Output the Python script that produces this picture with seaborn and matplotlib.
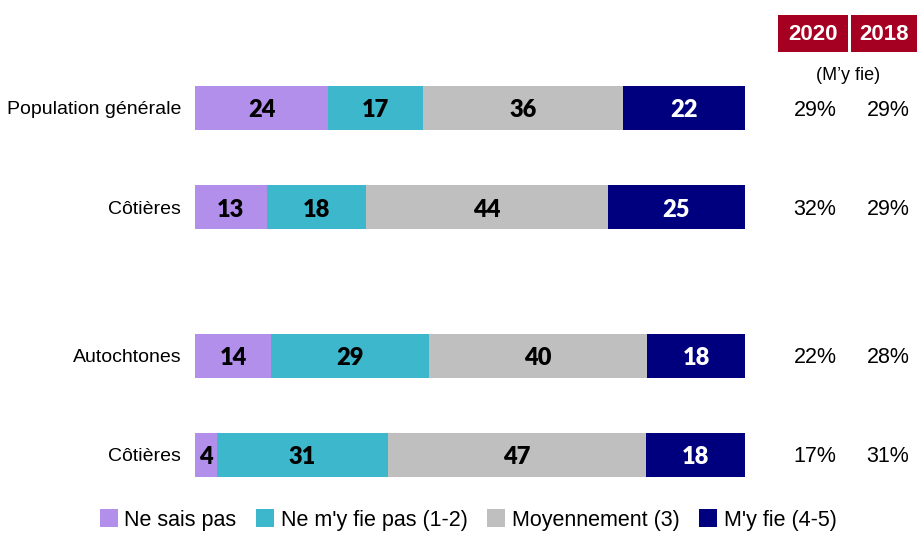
import matplotlib
matplotlib.use("Agg")
import matplotlib.pyplot as plt
import seaborn as sns
import numpy as np
import pandas as pd
from matplotlib.patches import Rectangle

categories = ["Population générale", "Côtières", "Autochtones", "Côtières"]
ypos = [0.0, 1.0, 2.5, 3.5]
series_names = ["Ne sais pas", "Ne m'y fie pas (1-2)", "Moyennement (3)", "M'y fie (4-5)"]
ne_sais_pas = [24, 13, 14, 4]
ne_fie_pas = [17, 18, 29, 31]
moyennement = [36, 44, 40, 47]
fie = [22, 25, 18, 18]
pct_2020 = ["29%", "32%", "22%", "17%"]
pct_2018 = ["29%", "29%", "28%", "31%"]
years = ["2020", "2018"]

colors = ["#B28FEA", "#3DB7CC", "#BFBFBF", "#00007F"]
text_colors = ["black", "black", "black", "white"]

sns.set_theme(style="white")
plt.rcParams['font.family'] = ['Liberation Sans', 'DejaVu Sans']
plt.rcParams['text.color'] = 'black'
plt.rcParams['ytick.color'] = 'black'
plt.rcParams['ytick.labelcolor'] = 'black'

fig = plt.figure(figsize=(9.17, 5.33), dpi=100)
W, H = 917, 533
ax = fig.add_axes([195 / W, (533 - 490) / H, 550 / W, 430 / H])

vals = np.array([ne_sais_pas, ne_fie_pas, moyennement, fie], dtype=float)
totals = vals.sum(axis=0)
norm = vals / totals * 100
cum = np.cumsum(norm, axis=0)

# draw cumulative bars from largest to smallest so they overlap into stacks
for k in range(3, -1, -1):
    df = pd.DataFrame({"x": cum[k], "y": ypos})
    sns.barplot(data=df, x="x", y="y", orient="h", native_scale=True,
                color=colors[k], saturation=1, width=0.44, ax=ax, errorbar=None,
                linewidth=0, edgecolor="none")

for k in range(4):
    for i in range(4):
        start = cum[k][i] - norm[k][i]
        cx = start + norm[k][i] / 2
        ax.text(cx, ypos[i] + 0.025, f"{int(vals[k][i])}", ha="center", va="center",
                fontsize=17, fontweight="heavy", color=text_colors[k], family=["Lato", "DejaVu Sans"])

ax.set_xlim(0, 100)
ax.set_ylim(3.855, -0.484)
ax.set_xticks([])
ax.set_yticks(ypos)
ax.set_yticklabels(categories, fontsize=14)
ax.tick_params(axis="y", length=0, pad=10, labelcolor="black")
ax.set_xlabel("")
ax.set_ylabel("")
for s in ax.spines.values():
    s.set_visible(False)

# right-side percentages
for i in range(4):
    ypix = 110 + ypos[i] * 99.1
    fig.text(815 / W, 1 - ypix / H, pct_2020[i], ha="center", va="center", fontsize=15.5)
    fig.text(888 / W, 1 - ypix / H, pct_2018[i], ha="center", va="center", fontsize=15.5)

# header boxes
for (x0, x1), yr in zip([(778, 848), (851, 917)], years):
    fig.patches.append(Rectangle((x0 / W, 1 - 52 / H), (x1 - x0) / W, 37 / H,
                                 transform=fig.transFigure, facecolor="#A50021", edgecolor="none"))
    fig.text((x0 + x1) / 2 / W, 1 - 34 / H, yr, ha="center", va="center", color="white",
             fontsize=16, fontweight="bold")
fig.text(848 / W, 1 - 75 / H, "(M\u2019y fie)", ha="center", va="center", fontsize=13)

# legend
handles = [Rectangle((0, 0), 1, 1, facecolor=c, edgecolor="none") for c in colors]
fig.legend(handles, series_names, loc="center", bbox_to_anchor=(468 / W, 1 - 520 / H), ncol=4,
           frameon=False, fontsize=15.5, handlelength=0.85, handleheight=0.85, handletextpad=0.3,
           columnspacing=0.9, borderaxespad=0)

fig.savefig("out.png", dpi=100)
